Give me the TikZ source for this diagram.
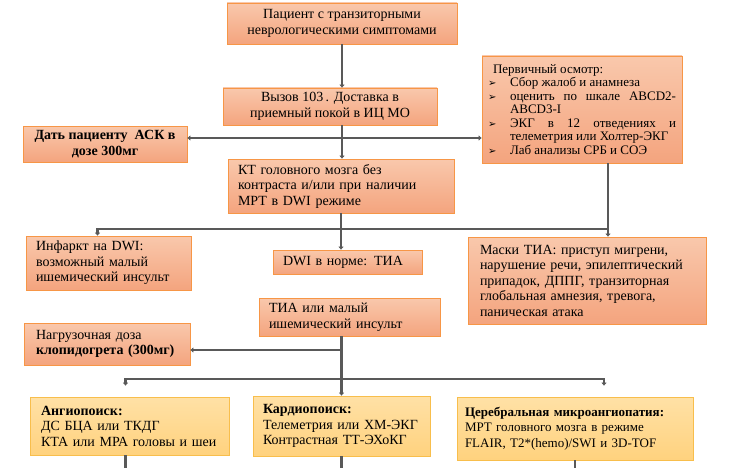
\documentclass[tikz,border=0pt]{standalone}
\usepackage{fontspec}
\setmainfont{Liberation Serif}
\newfontfamily\symfont{DejaVu Sans}
\usetikzlibrary{arrows.meta, calc, positioning}

\definecolor{boxline}{HTML}{F79646}
\definecolor{boxtop}{HTML}{F9C8AC}
\definecolor{boxbot}{HTML}{F4A47E}
\definecolor{ylwline}{HTML}{F8BE4C}
\definecolor{ylwtop}{HTML}{FFE1A6}
\definecolor{ylwbot}{HTML}{FFD27E}

\newcommand{\osmitem}[1]{\par\noindent\hangindent=22pt\hangafter=1\makebox[22pt][l]{\symfont\fontsize{10}{10}\selectfont\char"27A2}#1}

\tikzset{
    obox/.style={draw=boxline, line width=0.8pt, top color=boxtop, bottom color=boxbot,
        align=center, inner xsep=10pt, font=\fontsize{14}{15.5}\selectfont},
    lbox/.style={obox, align=left},
    ybox/.style={lbox, draw=ylwline, top color=ylwtop, bottom color=ylwbot},
    plain/.style={draw=black!65, line width=2.4pt},
    link/.style={plain, -{Triangle[length=3pt, width=5pt]}},
}

\begin{document}
\begin{tikzpicture}[x=1pt, y=-1pt]
    \useasboundingbox (0,0) rectangle (735,468);

    \node[obox, minimum width=230, minimum height=41] (patient) at (342,23.5) {Пациент с транзиторными\\неврологическими симптомами};
    \node[obox, minimum width=214, minimum height=37] (call) at (330,106.5) {Вызов 103\,. Доставка в\\приемный покой в ИЦ МО};
    \node[obox, minimum width=164, minimum height=36, font=\fontsize{14}{15.5}\selectfont\bfseries] (aspirin) at (105,144) {Дать пациенту~ АСК в\\дозе 300мг};
    \node[obox, align=justify, text width=188, inner xsep=6pt, minimum height=107, font=\fontsize{13}{13.5}\selectfont] (exam) at (582,109.5) {%
        \hspace*{5pt}Первичный осмотр:%
        \osmitem{Сбор жалоб и анамнеза}%
        \osmitem{оценить по шкале ABCD2-\linebreak ABCD3-I}%
        \osmitem{ЭКГ в 12 отведениях и\linebreak телеметрия или Холтер-ЭКГ}%
        \osmitem{Лаб анализы СРБ и СОЭ}};
    \node[lbox, text width=206, minimum height=54] (ct) at (341,186) {КТ головного мозга без\\контраста и/или при наличии\\МРТ в DWI режиме};

    \node[lbox, text width=145, minimum height=54] (infarct) at (108.5,263) {Инфаркт на DWI:\\возможный малый\\ишемический инсульт};
    \node[lbox, text width=129, minimum height=24] (normdwi) at (347.5,262) {DWI в норме: ТИА};
    \node[lbox, text width=214, inner xsep=12pt, minimum height=87] (mimics) at (587,280.5) {Маски ТИА: приступ мигрени,\\нарушение речи, эпилептический\\припадок, ДППГ, транзиторная\\глобальная амнезия, тревога,\\паническая атака};

    \node[lbox, text width=161, minimum height=38] (tia) at (349.5,317) {ТИА или малый\\ишемический инсульт};
    \node[lbox, text width=142, inner xsep=12pt, minimum height=42] (loading) at (107,344) {Нагрузочная доза\\\textbf{клопидогрета (300мг)}};

    \node[ybox, text width=177, inner xsep=11pt, minimum height=58] (angio) at (129.5,426) {\textbf{Ангиопоиск:}\\ДС БЦА или ТКДГ\\КТА или МРА головы и шеи};
    \node[ybox, text width=157, minimum height=60] (cardio) at (341.5,426) {\textbf{Кардиопоиск:}\\Телеметрия или ХМ-ЭКГ\\Контрастная ТТ-ЭХоКГ};
    \node[ybox, text width=220, inner xsep=8pt, minimum height=63, font=\fontsize{13}{15.5}\selectfont] (micro) at (575,428.5) {\textbf{Церебральная микроангиопатия:}\\МРТ головного мозга в режиме\\FLAIR, T2*(hemo)/SWI и 3D-TOF};

    \coordinate (split1) at (342,138);
    \coordinate (split2) at (342,229);
    \coordinate (split3) at (342,350);
    \coordinate (split4) at (342,379);
    \coordinate (examout) at ([xshift=26pt]exam.south);
    \coordinate (bottom) at (0,468);

    \draw[link] (patient.south) -- (patient.south |- call.north);
    \draw[link] (patient.south |- call.south) -- (patient.south |- ct.north);
    \draw[link] (split1) -- (split1 -| aspirin.east);
    \draw[link] (split1) -- (split1 -| exam.west);

    \draw[link] (ct.south) -- (ct.south |- normdwi.north);
    \draw[link] (split2) -| ([xshift=-11pt]infarct.north);
    \draw[plain] (split2) -- (split2 -| examout);
    \draw[link] (examout) -- (examout |- mimics.north);

    \draw[link] (cardio.north |- tia.south) -- (cardio.north);
    \draw[link] (split3) -- (split3 -| loading.east);
    \draw[link, shorten >=11pt] (split4) -| ([xshift=-4pt]angio.north);
    \draw[link, shorten >=11pt] (split4) -| ([xshift=29pt]micro.north);

    \draw[plain] ([xshift=-4pt]angio.south) -- ([xshift=-4pt]angio.south |- bottom);
    \draw[plain] (cardio.south) -- (cardio.south |- bottom);
    \draw[plain] (micro.south) -- (micro.south |- bottom);
\end{tikzpicture}
\end{document}
